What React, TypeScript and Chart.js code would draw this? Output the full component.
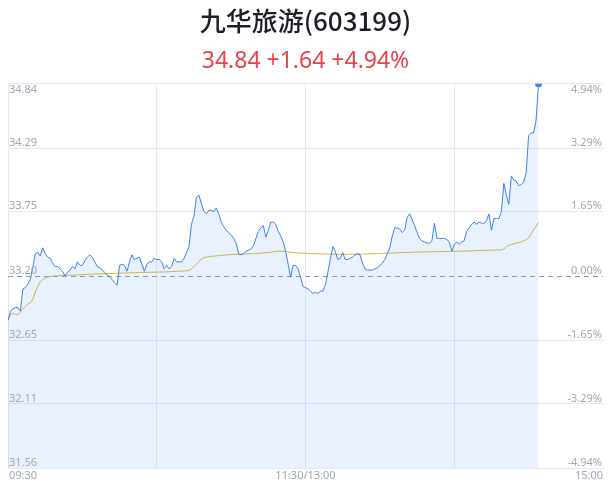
import React, { useEffect, useRef } from "react";
import { Chart, registerables } from "chart.js";

Chart.register(...registerables);

const stockName = "九华旅游(603199)";
const quoteText = "34.84 +1.64 +4.94%";
const prevClose = 33.2;
const yMin = 31.56;
const yMax = 34.84;
const priceTicks = [31.56, 32.11, 32.65, 33.2, 33.75, 34.29, 34.84];
const priceTickLabels = ["31.56", "32.11", "32.65", "33.20", "33.75", "34.29", "34.84"];
const pctTickLabels = ["-4.94%", "-3.29%", "-1.65%", "0.00%", "1.65%", "3.29%", "4.94%"];
const xGridIndex = [0, 60, 120, 180, 240];
const xTickIndex = [0, 120, 240];
const xTickLabels = ["09:30", "11:30/13:00", "15:00"];

const prices = [
  32.82, 32.9, 32.92, 32.93, 32.93, 32.9, 33.09, 33.1, 33.13, 33.17,
  33.27, 33.39, 33.4, 33.37, 33.44, 33.39, 33.36, 33.35, 33.31, 33.28,
  33.28, 33.26, 33.24, 33.2, 33.23, 33.25, 33.28, 33.26, 33.32, 33.29,
  33.29, 33.33, 33.36, 33.38, 33.36, 33.32, 33.28, 33.27, 33.25, 33.23,
  33.21, 33.19, 33.17, 33.14, 33.12, 33.29, 33.3, 33.29, 33.24, 33.32,
  33.38, 33.34, 33.35, 33.36, 33.3, 33.24, 33.3, 33.32, 33.32, 33.35,
  33.34, 33.34, 33.32, 33.26, 33.29, 33.26, 33.28, 33.35, 33.32, 33.32,
  33.32, 33.35, 33.4, 33.45, 33.64, 33.71, 33.87, 33.89, 33.82, 33.75,
  33.73, 33.76, 33.76, 33.75, 33.78, 33.73, 33.66, 33.62, 33.59, 33.57,
  33.55, 33.52, 33.48, 33.39, 33.38, 33.39, 33.41, 33.42, 33.43, 33.46,
  33.52, 33.58, 33.61, 33.63, 33.53, 33.59, 33.66, 33.66, 33.64, 33.58,
  33.54, 33.49, 33.41, 33.3, 33.19, 33.29, 33.29, 33.26, 33.19, 33.11,
  33.1, 33.09, 33.07, 33.05, 33.06, 33.05, 33.07, 33.07, 33.12, 33.23,
  33.34, 33.45, 33.41, 33.34, 33.35, 33.4, 33.34, 33.34, 33.35, 33.36,
  33.38, 33.39, 33.38, 33.31, 33.26, 33.25, 33.25, 33.25, 33.26, 33.27,
  33.29, 33.31, 33.34, 33.39, 33.44, 33.54, 33.61, 33.61, 33.6, 33.57,
  33.59, 33.7, 33.73, 33.68, 33.63, 33.57, 33.52, 33.5, 33.49, 33.48,
  33.48, 33.5, 33.65, 33.52, 33.52, 33.52, 33.52, 33.51, 33.49, 33.41,
  33.47, 33.49, 33.47, 33.49, 33.5, 33.58, 33.61, 33.64, 33.66, 33.64,
  33.66, 33.65, 33.65, 33.67, 33.73, 33.59, 33.69, 33.69, 33.69, 33.75,
  33.99, 33.89, 33.81, 34.05, 34.02, 34.01, 33.97, 33.98, 34.0, 34.08,
  34.4, 34.42, 34.42, 34.53, 34.84,
];

const avgPrices = [
  32.82, 32.87, 32.88, 32.87, 32.87, 32.89, 32.92, 32.94, 32.96, 32.97,
  33.0, 33.06, 33.11, 33.15, 33.17, 33.18, 33.19, 33.195, 33.198, 33.2,
  33.201, 33.202, 33.203, 33.204, 33.205, 33.206, 33.207, 33.208, 33.209, 33.21,
  33.211, 33.212, 33.213, 33.214, 33.215, 33.216, 33.217, 33.218, 33.218, 33.219,
  33.22, 33.22, 33.221, 33.221, 33.222, 33.223, 33.223, 33.224, 33.225, 33.226,
  33.227, 33.227, 33.228, 33.229, 33.229, 33.23, 33.23, 33.231, 33.231, 33.232,
  33.232, 33.233, 33.233, 33.234, 33.235, 33.236, 33.237, 33.238, 33.239, 33.24,
  33.241, 33.242, 33.244, 33.246, 33.26, 33.28, 33.3, 33.32, 33.345, 33.355,
  33.36, 33.364, 33.367, 33.369, 33.371, 33.373, 33.375, 33.377, 33.379, 33.381,
  33.382, 33.383, 33.384, 33.385, 33.386, 33.387, 33.388, 33.389, 33.389, 33.39,
  33.391, 33.393, 33.395, 33.397, 33.398, 33.4, 33.403, 33.406, 33.409, 33.411,
  33.411, 33.41, 33.408, 33.405, 33.402, 33.399, 33.397, 33.396, 33.395, 33.394,
  33.393, 33.392, 33.391, 33.39, 33.389, 33.389, 33.388, 33.388, 33.387, 33.387,
  33.386, 33.386, 33.385, 33.385, 33.384, 33.384, 33.383, 33.384, 33.384, 33.385,
  33.385, 33.386, 33.386, 33.387, 33.388, 33.388, 33.389, 33.389, 33.39, 33.39,
  33.391, 33.392, 33.393, 33.393, 33.394, 33.395, 33.396, 33.397, 33.398, 33.399,
  33.4, 33.4, 33.401, 33.402, 33.403, 33.403, 33.404, 33.404, 33.405, 33.405,
  33.406, 33.406, 33.407, 33.407, 33.407, 33.408, 33.408, 33.408, 33.409, 33.409,
  33.41, 33.41, 33.411, 33.411, 33.412, 33.413, 33.413, 33.414, 33.415, 33.416,
  33.417, 33.417, 33.418, 33.418, 33.419, 33.42, 33.42, 33.421, 33.421, 33.422,
  33.43, 33.45, 33.46, 33.468, 33.474, 33.48, 33.486, 33.49, 33.5, 33.51,
  33.525, 33.56, 33.595, 33.625, 33.655,
];

// trading-minute categories: 09:30..11:30 then 13:01..15:00 (11:30 and 13:00 share a slot)
function buildTimes(): string[] {
  const out: string[] = [];
  const fmt = (m: number) =>
    String(Math.floor(m / 60)).padStart(2, "0") + ":" + String(m % 60).padStart(2, "0");
  for (let m = 9 * 60 + 30; m <= 11 * 60 + 30; m++) out.push(fmt(m));
  out[out.length - 1] = "11:30/13:00";
  for (let m = 13 * 60 + 1; m <= 15 * 60; m++) out.push(fmt(m));
  return out;
}
const timeLabels = buildTimes();

const LINE_BLUE = "#3f80f2";
const AVG_GOLD = "#d7b92c";
const GRID = "#e7e9ef";
const LABEL = "#a0a6b4";
const FONT = '"Noto Sans", "DejaVu Sans", sans-serif';

export default function App() {
  const canvasRef = useRef<HTMLCanvasElement | null>(null);

  useEffect(() => {
    document.body.style.margin = "0";
    const canvas = canvasRef.current;
    if (!canvas) return;

    const overlay = {
      id: "overlay",
      beforeDatasetsDraw(chart: any) {
        const { ctx, chartArea } = chart;
        const y = chart.scales.y.getPixelForValue(prevClose);
        ctx.save();
        ctx.strokeStyle = "#8d99b6";
        ctx.lineWidth = 1;
        ctx.setLineDash([5, 4]);
        ctx.beginPath();
        ctx.moveTo(chartArea.left, Math.round(y) + 0.5);
        ctx.lineTo(chartArea.right, Math.round(y) + 0.5);
        ctx.stroke();
        ctx.restore();
      },
      afterDraw(chart: any) {
        const { ctx, chartArea } = chart;
        const ys = chart.scales.y;
        const xs = chart.scales.x;
        ctx.save();
        ctx.font = "11px " + FONT;
        ctx.fillStyle = LABEL;
        ctx.textBaseline = "alphabetic";
        priceTicks.forEach((v, i) => {
          const py = ys.getPixelForValue(v);
          const base = i === priceTicks.length - 1 ? py + 9 : py - 2;
          ctx.textAlign = "left";
          ctx.fillText(priceTickLabels[i], chartArea.left + 1, base);
          ctx.textAlign = "right";
          ctx.fillText(pctTickLabels[i], chartArea.right - 1, base);
        });
        xTickIndex.forEach((idx, i) => {
          const px = xs.getPixelForValue(idx);
          ctx.textAlign = i === 0 ? "left" : i === xTickIndex.length - 1 ? "right" : "center";
          ctx.fillText(xTickLabels[i], px + (i === 0 ? 1 : 0), chartArea.bottom + 11);
        });
        ctx.restore();
      },
    };

    const chart = new Chart(canvas, {
      type: "line",
      data: {
        labels: timeLabels,
        datasets: [
          {
            label: "price",
            data: prices,
            borderColor: LINE_BLUE,
            borderWidth: 1,
            backgroundColor: "rgba(63,128,242,0.11)",
            fill: "start",
            tension: 0,
            clip: 0,
            pointRadius: (c: any) => (c.dataIndex === prices.length - 1 ? 3.5 : 0),
            pointBackgroundColor: LINE_BLUE,
            pointBorderWidth: 0,
            order: 1,
          },
          {
            label: "avg",
            data: avgPrices,
            borderColor: AVG_GOLD,
            borderWidth: 1,
            fill: false,
            tension: 0,
            pointRadius: 0,
            order: 2,
          },
        ],
      },
      options: {
        animation: false,
        responsive: true,
        maintainAspectRatio: false,
        layout: { padding: { left: 8, right: 8, bottom: 24, top: 0 } },
        plugins: {
          legend: { display: false },
          tooltip: { enabled: false },
          title: {
            display: true,
            text: stockName,
            color: "#1c1f26",
            font: { size: 26, weight: "500", family: '"Noto Sans CJK SC", "Noto Sans", sans-serif' },
            padding: { top: 6, bottom: 4 },
          },
          subtitle: {
            display: true,
            text: quoteText,
            color: "#e8434a",
            font: { size: 23, weight: "normal", family: FONT },
            padding: { top: 6, bottom: 9 },
          },
        },
        scales: {
          x: {
            type: "category",
            offset: false,
            grid: {
              display: true,
              drawTicks: false,
              offset: false,
              color: (c: any) => (c.tick && c.tick.value === 240 ? "rgba(0,0,0,0)" : GRID),
            },
            border: { display: true, color: GRID },
            ticks: { display: false, autoSkip: false },
            afterBuildTicks: (scale: any) => {
              scale.ticks = xGridIndex.map((v) => ({ value: v }));
            },
          },
          y: {
            min: yMin,
            max: yMax,
            grid: {
              display: true,
              drawTicks: false,
              color: (c: any) => (c.tick && c.tick.value === prevClose ? "rgba(0,0,0,0)" : GRID),
            },
            border: { display: true, color: GRID },
            ticks: { display: false },
            afterBuildTicks: (scale: any) => {
              scale.ticks = priceTicks.map((v) => ({ value: v }));
            },
          },
        },
      },
      plugins: [overlay],
    } as any);

    return () => chart.destroy();
  }, []);

  return (
    <div style={{ width: 611, height: 492, position: "relative" }}>
      <canvas ref={canvasRef} />
    </div>
  );
}
